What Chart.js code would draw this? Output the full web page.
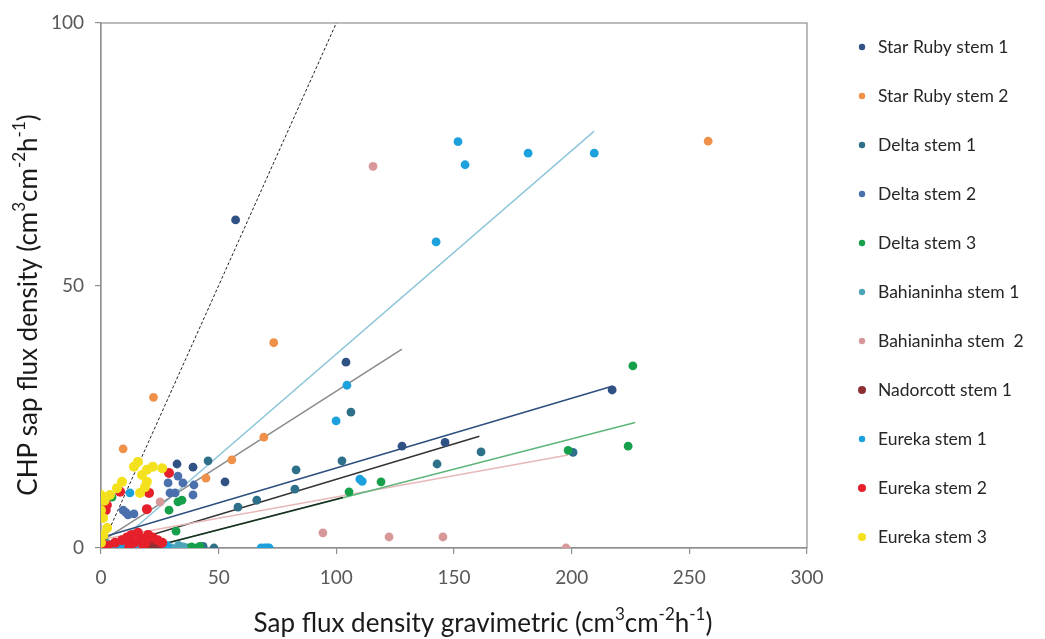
<!DOCTYPE html>
<html>
<head>
<meta charset="utf-8">
<script src="https://cdn.jsdelivr.net/npm/chart.js@4.4.1/dist/chart.umd.min.js"></script>
<style>
html,body{margin:0;padding:0;background:#ffffff;}
#wrap{width:1045px;height:639px;position:relative;}
</style>
</head>
<body>
<div id="wrap"><canvas id="chart"></canvas></div>
<script>
// ---------------- data ----------------
const seriesLabels = ['Star Ruby stem 1','Star Ruby stem 2','Delta stem 1','Delta stem 2','Delta stem 3',
  'Bahianinha stem 1','Bahianinha stem  2','Nadorcott stem 1','Eureka stem 1','Eureka stem 2','Eureka stem 3'];
const seriesColors = ['#2F5183','#F0914A','#2E6F8A','#4A70AE','#17A04B',
  '#4EA5BA','#D8989A','#8E2F33','#1DA1DD','#E5202A','#F3E11E'];
const seriesRadius = [4.4,4.4,4.4,4.4,4.4,4.4,4.4,5,4.4,5,5];

const starRubyStem1 = [[57.2,62.5],[104.1,35.4],[127.9,19.4],[146.2,20.1],[217.2,30.1],[52.7,12.6],[32.3,16.0],[39.1,15.4]];
const starRubyStem2 = [[9.4,18.9],[22.3,28.7],[44.6,13.3],[55.6,16.8],[69.2,21.1],[73.4,39.1],[258,77.5]];
const deltaStem1 = [[45.5,16.6],[58.2,7.8],[66.2,9.1],[82.9,14.9],[82.4,11.2],[102.4,16.6],[106.2,25.9],
  [142.8,16.0],[161.5,18.3],[200.6,18.2],[48,0],[43.4,0.3]];
const deltaStem2 = [[28.5,12.4],[32.7,13.7],[34.8,12.4],[39.5,12.0],[29.3,10.5],[31.5,10.5],[39.1,10.1],
  [9.4,7.2],[11.5,6.3],[14.0,6.5],[10.5,6.8]];
const deltaStem3 = [[4.7,9.7],[28.9,7.2],[32.7,8.8],[34.4,9.1],[31.9,3.2],[36.5,0],[38.5,0.2],[40.8,0],[42,0.3],
  [105.4,10.7],[119,12.6],[198.5,18.6],[224,19.4],[226,34.7],[2,1]];
const bahianinhaStem1 = [[5,0],[18,0],[22,0.5],[27,0.3],[30,0],[33,0.5],[35,0.2],[3,0.8]];
const bahianinhaStem2 = [[115.6,72.7],[94.3,2.9],[122.4,2.1],[145.3,2.1],[197.6,0],[25.1,8.8]];
const nadorcottStem1 = [[8,0.3],[10,0],[12,0.5],[14,0],[16,0.2],[18,0],[21,0.5],[23,0.2],[25,0],[13,1.2]];
const eurekaStem1 = [[12.3,10.5],[99.9,24.2],[104.5,31.0],[110,13.1],[111,12.7],[142.4,58.3],[151.7,77.4],
  [154.7,73.0],[181.5,75.2],[209.6,75.2],[68,0],[69.5,0],[70.5,0],[71.5,0],[6,0],[9,0.3],[15,0],[28,0.5]];
const eurekaStem2 = [[0,1.5],[1,0.5],[2,7.2],[2.5,8.2],[8.1,10.7],[20.4,10.5],[19.5,7.4],[28.9,14.3],[11,2],
  [13,2.5],[15.7,2.9],[17,1.8],[20,2.5],[22,2],[24,1.5],[19,1],[14,1],[6,1],[3,0.5],[9,1.5],[26,1],[12,0.3],[18,0.5]];
const eurekaStem3 = [[15.7,16.4],[19.5,14.9],[26,15.2],[8.9,12.6],[6.8,11.4],[19.5,12.6],[0,10.1],[3.8,10.1],
  [16.6,10.5],[0.9,5.7],[2.6,3.8],[0,7.2],[17.4,13.9],[18.7,11.6],[1.5,9],[0,1],[1,2.5],[22,15.5],[14,15.5]];

const seriesData = [starRubyStem1,starRubyStem2,deltaStem1,deltaStem2,deltaStem3,
  bahianinhaStem1,bahianinhaStem2,nadorcottStem1,eurekaStem1,eurekaStem2,eurekaStem3];

// trend lines (end points in data units) and the 1:1 line
const oneToOne = [[0,0],[100,100]];
const trendLightBlue = [[4.6,0],[209.6,79.4]];
const trendGray = [[0,1.2],[127.9,37.9]];
const trendNavy = [[1,2.1],[217.2,30.8]];
const trendBlack = [[3,0],[160.8,21.3]];
const trendPink = [[0,1.6],[198.5,17.7]];
const trendGreen = [[20,0],[227,23.9]];
const trendDark = [[20,0],[102.8,9.6]];
const trendLines = [trendLightBlue,trendGray,trendNavy,trendBlack,trendPink,trendGreen,trendDark];
const trendColors = ['#8FC6DA','#8A8A8A','#2D4F7F','#333333','#E8B7B7','#5DB57A','#1E2A22'];

const xTicks = [0,50,100,150,200,250,300];
const yTicks = [0,50,100];

// ---------------- build chart ----------------
const FONT = 'Lato';
const toXY = arr => arr.map(p => ({x:p[0], y:p[1]}));

const datasets = [];
seriesData.forEach((d,i) => {
  datasets.push({
    type:'scatter', label: seriesLabels[i], data: toXY(d),
    backgroundColor: seriesColors[i], borderColor: seriesColors[i], borderWidth: 0,
    pointRadius: seriesRadius[i], pointHoverRadius: seriesRadius[i],
    order: 12 - i, showInLegend: true
  });
});
trendLines.forEach((d,i) => {
  datasets.push({
    type:'line', label:'trend'+i, data: toXY(d), borderColor: trendColors[i],
    borderWidth: 1.5, pointRadius: 0, fill:false, order: 30 - i, showInLegend:false
  });
});
datasets.push({
  type:'line', label:'1:1', data: toXY(oneToOne), borderColor:'#222222', borderWidth:1,
  borderDash:[3,2], pointRadius:0, fill:false, order: 40, showInLegend:false
});

function drawRich(ctx, segs, size, supSize, supRise) {
  let w = 0;
  segs.forEach(s => { ctx.font = (s[1] ? supSize : size) + 'px ' + FONT; w += ctx.measureText(s[0]).width; });
  let x = -w/2;
  ctx.textBaseline = 'middle';
  ctx.textAlign = 'left';
  segs.forEach(s => {
    ctx.font = (s[1] ? supSize : size) + 'px ' + FONT;
    ctx.fillText(s[0], x, s[1] ? -supRise : 0);
    x += ctx.measureText(s[0]).width;
  });
}

const decorPlugin = {
  id:'decor',
  beforeDatasetsDraw(chart) {
    const {ctx, chartArea:a} = chart;
    ctx.save();
    ctx.strokeStyle = '#8f8f8f';
    ctx.lineWidth = 1.2;
    ctx.strokeRect(a.left, a.top, a.right - a.left, a.bottom - a.top);
    ctx.restore();
  },
  afterDraw(chart) {
    const {ctx} = chart;
    ctx.save();
    ctx.fillStyle = '#1a1a1a';
    // x title
    ctx.save();
    ctx.translate(483, 624);
    drawRich(ctx, [['Sap flux density gravimetric (cm',0],['3',1],['cm',0],['-2',1],['h',0],['-1',1],[')',0]], 26, 17, 9);
    ctx.restore();
    // y title
    ctx.save();
    ctx.translate(29, 305);
    ctx.rotate(-Math.PI/2);
    drawRich(ctx, [['CHP sap flux density (cm',0],['3',1],['cm',0],['-2',1],['h',0],['-1',1],[')',0]], 26, 17, 9);
    ctx.restore();
    // legend
    const items = chart.data.datasets.filter(d => d.showInLegend);
    items.forEach((d,i) => {
      const y = 47 + 49*i;
      ctx.beginPath();
      ctx.fillStyle = d.backgroundColor;
      ctx.arc(862, y, d.pointRadius > 4.5 ? 4 : 3.2, 0, Math.PI*2);
      ctx.fill();
      ctx.fillStyle = '#262626';
      ctx.font = '17.5px ' + FONT;
      ctx.textAlign = 'left';
      ctx.textBaseline = 'middle';
      ctx.fillText(d.label, 878, y);
    });
    ctx.restore();
  }
};

const axisCommon = {
  type:'linear',
  grid:{display:true, drawOnChartArea:false, drawTicks:true, tickLength:6, color:'#8f8f8f', lineWidth:1.2},
  border:{display:true, color:'#8f8f8f', width:1.2},
  title:{display:false}
};

new Chart(document.getElementById('chart'), {
  data:{datasets},
  options:{
    responsive:true, maintainAspectRatio:false, animation:false, devicePixelRatio:1,
    layout:{padding:{left:0, right:238, top:23, bottom:0}},
    plugins:{legend:{display:false}, tooltip:{enabled:false}},
    scales:{
      x: Object.assign({}, axisCommon, {
        position:'bottom', min:0, max:300,
        ticks:{font:{family:FONT,size:19}, color:'#595959', padding:12, maxRotation:0, autoSkip:false},
        afterBuildTicks: s => { s.ticks = xTicks.map(v => ({value:v})); },
        afterFit: s => { s.height = 91; }
      }),
      y: Object.assign({}, axisCommon, {
        position:'left', min:0, max:100,
        ticks:{font:{family:FONT,size:19}, color:'#595959', padding:11, autoSkip:false},
        afterBuildTicks: s => { s.ticks = yTicks.map(v => ({value:v})); },
        afterFit: s => { s.width = 101; }
      })
    }
  },
  plugins:[decorPlugin]
});
</script>
</body>
</html>
